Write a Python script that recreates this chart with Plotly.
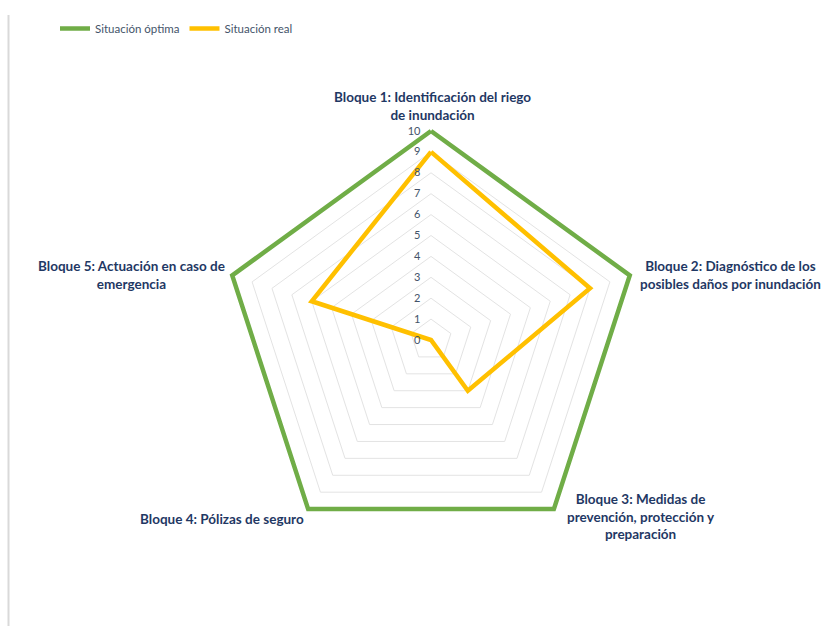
import plotly.graph_objects as go

categories = [
    "Bloque 1: Identificación del riego<br>de inundación",
    "Bloque 2: Diagnóstico de los<br>posibles daños por inundación",
    "Bloque 3: Medidas de<br>prevención, protección y<br>preparación",
    "Bloque 4: Pólizas de seguro",
    "Bloque 5: Actuación en caso de<br>emergencia",
]
optima = [10, 10, 10, 10, 10]
real = [9, 8, 3, 0, 6]
series_names = ["Situación óptima", "Situación real"]
radial_ticks = list(range(0, 11))

RMAX = 10.3  # small headroom so the outer line is not clipped
cx, cy = 431, 340
R = 209 * RMAX / 10
W, H = 839, 626

theta_ids = [f"c{i}" for i in range(len(categories))]
closed = lambda v: list(v) + [v[0]]

fig = go.Figure()
fig.add_trace(go.Scatterpolar(
    r=closed(optima), theta=closed(theta_ids), mode="lines",
    name=series_names[0], line=dict(color="#70AD47", width=4.5), cliponaxis=False,
))
fig.add_trace(go.Scatterpolar(
    r=closed(real), theta=closed(theta_ids), mode="lines",
    name=series_names[1], line=dict(color="#FFC000", width=4.5), cliponaxis=False,
))

nb = "\u00a0" * 3
fig.update_layout(
    width=W, height=H,
    margin=dict(l=0, r=0, t=0, b=0),
    paper_bgcolor="white",
    font=dict(family="Lato, 'Open Sans', sans-serif", color="#1F3864"),
    polar=dict(
        bgcolor="white",
        gridshape="linear",
        domain=dict(x=[(cx - R) / W, (cx + R) / W], y=[(H - cy - R) / H, (H - cy + R) / H]),
        radialaxis=dict(
            range=[0, RMAX], tickvals=radial_ticks, ticktext=[f"{t}{nb}" for t in radial_ticks],
            angle=90, tickangle=90, showline=False, ticks="",
            gridcolor="#E3E3E3", gridwidth=1,
            tickfont=dict(size=11, color="#44546A", family="Lato, sans-serif"),
            side="counterclockwise",
        ),
        angularaxis=dict(
            type="category", categoryarray=theta_ids, direction="clockwise", rotation=90,
            showgrid=False, showline=False, showticklabels=False, ticks="",
        ),
    ),
    legend=dict(
        orientation="h", x=55 / W, y=1 - 14 / H, xanchor="left", yanchor="top",
        font=dict(size=11.5, color="#44546A", family="Lato, sans-serif"),
        itemwidth=30, bgcolor="rgba(0,0,0,0)",
    ),
    showlegend=True,
)

# category labels
label_pos = [
    (432, 106, "center"),
    (730, 275, "center"),
    (641, 516, "center"),
    (222, 519, "center"),
    (131, 275, "center"),
]
for txt, (x, y, al) in zip(categories, label_pos):
    fig.add_annotation(
        text=txt, x=x / W, y=1 - y / H, xref="paper", yref="paper",
        xanchor="center", yanchor="middle", align=al, showarrow=False,
        font=dict(size=13.5, color="#1F3864", family="Lato, sans-serif", weight="bold"),
    )

# left border line
fig.add_shape(type="line", xref="paper", yref="paper",
              x0=8.5 / W, x1=8.5 / W, y0=0, y1=1 - 15 / H,
              line=dict(color="#D9D9D9", width=2))

fig.write_html("out.html")
